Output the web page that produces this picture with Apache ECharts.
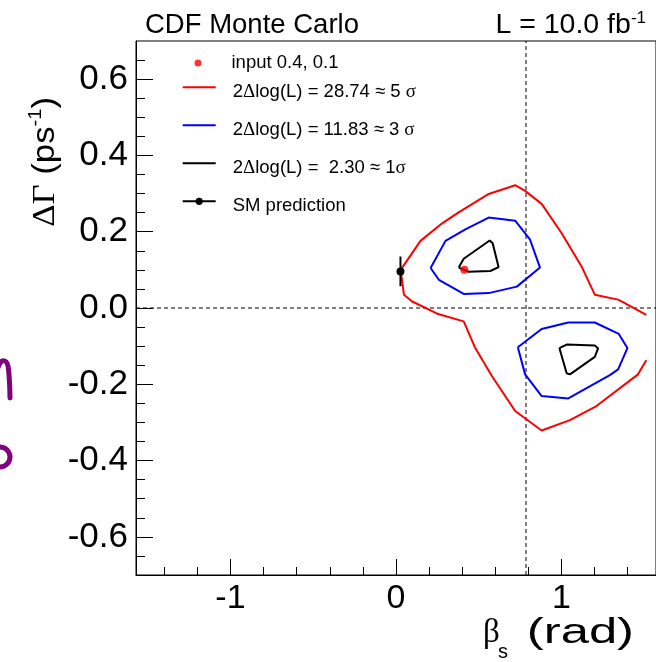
<!DOCTYPE html>
<html><head><meta charset="utf-8">
<script src="https://cdn.jsdelivr.net/npm/echarts@6/dist/echarts.min.js"></script>
<style>html,body{margin:0;padding:0;background:#fff}#c{width:656px;height:662px}</style>
</head><body><div id="c"></div>
<script>
// ---------- data ----------
const X_MIN = -Math.PI / 2, X_MAX = Math.PI / 2;
const Y_MIN = -0.7, Y_MAX = 0.7;
const X_REF = Math.PI / 4;   // vertical dashed line
const Y_REF = 0;             // horizontal dashed line

const xMajorTicks = [-1, 0, 1];
const xMinorTicks = [-1.4, -1.2, -0.8, -0.6, -0.4, -0.2, 0.2, 0.4, 0.6, 0.8, 1.2, 1.4];
const yMajorTicks = [-0.6, -0.4, -0.2, 0, 0.2, 0.4, 0.6];
const yMinorTicks = [-0.65, -0.55, -0.5, -0.45, -0.35, -0.3, -0.25, -0.15, -0.1, -0.05,
                     0.05, 0.1, 0.15, 0.25, 0.3, 0.35, 0.45, 0.5, 0.55, 0.65];

const redContour = [
  [1.512,-0.018],[1.382,0.013],[1.342,0.022],[1.201,0.035],[1.121,0.109],[1.001,0.196],
  [0.880,0.273],[0.780,0.307],[0.720,0.322],[0.560,0.299],[0.369,0.248],[0.279,0.222],
  [0.148,0.176],[0.028,0.100],[0.048,0.035],[0.098,0.017],[0.249,-0.015],[0.409,-0.035],
  [0.479,-0.105],[0.580,-0.179],[0.720,-0.270],[0.880,-0.321],[1.051,-0.294],[1.211,-0.257],
  [1.462,-0.174],[1.512,-0.137]
];
const blueUpper = [
  [0.209,0.105],[0.299,0.176],[0.419,0.206],[0.560,0.237],[0.720,0.229],[0.810,0.179],
  [0.870,0.106],[0.730,0.056],[0.560,0.039],[0.409,0.037],[0.259,0.074],[0.209,0.105]
];
const blueLower = [
  [0.736,-0.103],[0.880,-0.055],[1.041,-0.038],[1.201,-0.038],[1.346,-0.068],[1.398,-0.105],
  [1.342,-0.161],[1.292,-0.176],[1.041,-0.237],[0.880,-0.231],[0.780,-0.174],[0.736,-0.103]
];
const blackUpper = [
  [0.379,0.106],[0.409,0.129],[0.566,0.177],[0.584,0.170],[0.620,0.107],[0.570,0.097],
  [0.439,0.095],[0.379,0.106]
];
const blackLower = [
  [0.987,-0.105],[1.031,-0.096],[1.201,-0.098],[1.221,-0.106],[1.201,-0.128],[1.051,-0.174],
  [1.031,-0.171],[0.987,-0.105]
];
const inputPoint = [[0.413, 0.1]];
const smPoint = [[0.027, 0.096]];
const smErrorLow = 0.057, smErrorHigh = 0.135;

const N_IN = 'input 0.4, 0.1';
const N5 = '2\u0394log(L) = 28.74 \u2248 5 \u03c3';
const N3 = '2\u0394log(L) = 11.83 \u2248 3 \u03c3';
const N1 = '2\u0394log(L) =  2.30 \u2248 1\u03c3';
const NSM = 'SM prediction';

// ---------- chart ----------
const SANS = '"Liberation Sans", Arial, Helvetica, sans-serif';
const SERIF = '"Liberation Serif", "DejaVu Serif", serif';
const G = {left:136, top:41, width:522, height:534};

function richName(name) {
  let out = '', buf = '';
  for (const ch of name) {
    if (ch === '\u0394' || ch === '\u03c3') {
      if (buf) { out += '{a|' + buf + '}'; buf = ''; }
      out += '{g|' + ch + '}';
    } else buf += ch;
  }
  if (buf) out += '{a|' + buf + '}';
  return out;
}

const chart = echarts.init(document.getElementById('c'), null, {renderer:'canvas'});

function lineSeries(name, data, color, extra) {
  return Object.assign({
    type:'line', name, data, xAxisIndex:0, yAxisIndex:0,
    symbol:'none', showSymbol:false, silent:true, animation:false,
    lineStyle:{color, width:2}, itemStyle:{color}, z:3
  }, extra || {});
}

const axisBlack = {color:'#000', width:1};
const noDot = {opacity:0};

chart.setOption({
  animation:false,
  backgroundColor:'#fff',
  grid:[
    Object.assign({show:true, borderColor:'#000', borderWidth:1, backgroundColor:'transparent', containLabel:false}, G),
    Object.assign({show:false, containLabel:false}, G)
  ],
  xAxis:[
    {type:'value', gridIndex:0, min:X_MIN, max:X_MAX, position:'bottom',
     axisLine:{show:true, onZero:false, lineStyle:axisBlack},
     axisTick:{show:true, inside:true, length:16, customValues:xMajorTicks, lineStyle:axisBlack},
     axisLabel:{show:true, customValues:xMajorTicks, margin:7, color:'#000', fontSize:34, fontFamily:SANS,
                formatter:v => String(Math.round(v))},
     splitLine:{show:false}},
    {type:'value', gridIndex:1, min:X_MIN, max:X_MAX, position:'bottom',
     axisLine:{show:false, onZero:false},
     axisTick:{show:true, inside:true, length:8, customValues:xMinorTicks, lineStyle:axisBlack},
     axisLabel:{show:false}, splitLine:{show:false}}
  ],
  yAxis:[
    {type:'value', gridIndex:0, min:Y_MIN, max:Y_MAX, position:'left',
     axisLine:{show:true, onZero:false, lineStyle:axisBlack},
     axisTick:{show:true, inside:true, length:17, customValues:yMajorTicks, lineStyle:axisBlack},
     axisLabel:{show:true, customValues:yMajorTicks, margin:8, color:'#000', fontSize:35, fontFamily:SANS,
                formatter:v => v.toFixed(1)},
     splitLine:{show:false}},
    {type:'value', gridIndex:1, min:Y_MIN, max:Y_MAX, position:'left',
     axisLine:{show:false, onZero:false},
     axisTick:{show:true, inside:true, length:9, customValues:yMinorTicks, lineStyle:axisBlack},
     axisLabel:{show:false}, splitLine:{show:false}}
  ],
  legend:[
    {data:[N_IN], orient:'vertical', left:194.5, top:52, itemWidth:7, itemHeight:7, icon:'circle',
     selectedMode:false, padding:0,
     textStyle:{color:'#000', fontSize:18.5, fontFamily:SANS, lineHeight:22, padding:[0,0,0,25]}},
    {data:[{name:N5, itemStyle:noDot}, {name:N3, itemStyle:noDot}, {name:N1, itemStyle:noDot}, {name:NSM}],
     orient:'vertical', left:181.7, top:70.8, itemWidth:33, itemHeight:9, itemGap:5,
     selectedMode:false, padding:0,
     formatter:richName,
     textStyle:{color:'#000', fontSize:18.5, fontFamily:SANS, lineHeight:24, padding:[9,0,0,12],
       rich:{a:{fontSize:18.5, fontFamily:SANS, color:'#000', lineHeight:24},
             g:{fontSize:19, fontFamily:SERIF, color:'#000', lineHeight:24}}}}
  ],
  series:[
    lineSeries('hline', [[X_MIN, Y_REF], [X_MAX, Y_REF]], '#000',
      {lineStyle:{color:'#000', width:1, type:[4,3]}, z:2}),
    lineSeries('vline', [[X_REF, Y_MIN], [X_REF, Y_MAX]], '#000',
      {lineStyle:{color:'#000', width:1, type:[4,3]}, z:2}),
    lineSeries(N5, redContour, '#ff0000'),
    lineSeries(N3, blueUpper, '#0000ff'),
    lineSeries(N3, blueLower, '#0000ff'),
    lineSeries(N1, blackUpper, '#000000'),
    lineSeries(N1, blackLower, '#000000'),
    lineSeries('smerr', [[smPoint[0][0], smErrorLow], [smPoint[0][0], smErrorHigh]], '#000', {z:4}),
    {type:'line', name:NSM, data:smPoint, symbol:'circle', symbolSize:8, showSymbol:true, silent:true,
     lineStyle:{color:'#000', width:2}, itemStyle:{color:'#000'}, z:5},
    {type:'scatter', name:N_IN, data:inputPoint, symbol:'circle', symbolSize:8, silent:true,
     itemStyle:{color:'#ff0000'}, z:5}
  ],
  graphic:[
    {type:'text', x:145, y:25, style:{text:'CDF Monte Carlo', fontSize:27.5, fontFamily:SANS, fill:'#000',
      align:'left', verticalAlign:'middle'}},
    {type:'text', x:646, y:25, style:{text:'{a|L = 10.0 fb}{s|-1}', align:'right', verticalAlign:'middle',
      rich:{a:{fontSize:28.5, fontFamily:SANS, fill:'#000', lineHeight:30, verticalAlign:'bottom'},
            s:{fontSize:17, fontFamily:SANS, fill:'#000', lineHeight:17, verticalAlign:'top'}}}},
    {type:'text', x:44, y:97, rotation:Math.PI/2, scaleX:1.12, style:{text:'{g|\u0394\u0393}{a| (ps}{s|-1}{a|)}',
      align:'right', verticalAlign:'middle',
      rich:{g:{fontSize:31, fontFamily:SERIF, fill:'#000', lineHeight:34, verticalAlign:'bottom'},
            a:{fontSize:31, fontFamily:SANS, fill:'#000', lineHeight:34, verticalAlign:'bottom'},
            s:{fontSize:18, fontFamily:SANS, fill:'#000', lineHeight:18, verticalAlign:'top'}}}},
    {type:'text', x:483, y:633, style:{text:'\u03b2', fontSize:33, fontFamily:SERIF, fill:'#000',
      align:'left', verticalAlign:'middle'}},
    {type:'text', x:498, y:652, style:{text:'s', fontSize:20, fontFamily:SANS, fill:'#000',
      align:'left', verticalAlign:'middle'}},
    {type:'text', x:634, y:633, scaleX:1.45, style:{text:'(rad)', fontSize:35, fontFamily:SANS, fill:'#000',
      align:'right', verticalAlign:'middle'}},
    {type:'polyline', shape:{points:[[-3,370],[2,361],[7,363],[9,375],[10,398]], smooth:0.4},
      style:{stroke:'#800080', lineWidth:5, fill:null, lineCap:'round'}},
    {type:'arc', shape:{cx:0, cy:457, r:10, startAngle:-Math.PI/2, endAngle:Math.PI/2, clockwise:true},
      style:{stroke:'#800080', lineWidth:5, fill:null}}
  ]
});
</script>
</body></html>
